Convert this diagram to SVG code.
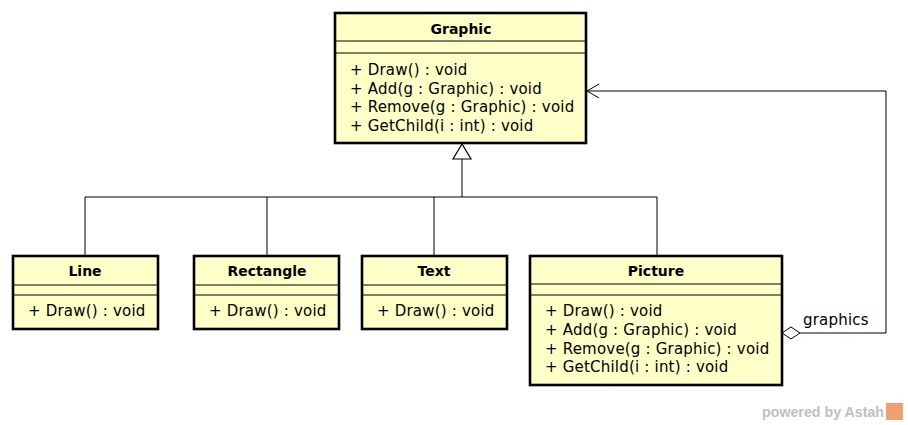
<svg xmlns="http://www.w3.org/2000/svg" width="908" height="425" viewBox="0 0 908 425">
<style>
.box{fill:#ffffc8;stroke:#000;stroke-width:2.6}
.sep{stroke:#000;stroke-width:1}
.t{font-family:"DejaVu Sans",sans-serif;font-size:14px;font-weight:bold;text-anchor:middle;fill:#000}
.m{font-family:"DejaVu Sans",sans-serif;font-size:15px;letter-spacing:0.2px;fill:#000}
.c{fill:none;stroke:#000;stroke-width:1}
</style>
<rect width="908" height="425" fill="#fff"/>
<g id="connectors">
<polyline class="c" points="85,256 85,197 657,197 657,256"/>
<line class="c" x1="267" y1="197" x2="267" y2="256"/>
<line class="c" x1="434" y1="197" x2="434" y2="256"/>
<line class="c" x1="462" y1="159" x2="462" y2="197" stroke-width="2"/>
<polygon points="462,144 453,159 471,159" fill="#fff" stroke="#000" stroke-width="1.2"/>
<polyline class="c" points="800,333 886,333 886,91 587,91"/>
<polyline class="c" points="599,84 587,91 599,98"/>
<polygon points="782,333 791,327 800,333 791,339" fill="#fff" stroke="#000" stroke-width="1"/>
<text class="m" x="803" y="325">graphics</text>
</g>
<g id="Graphic">
<rect class="box" x="335" y="13" width="251" height="130"/>
<line class="sep" x1="335" y1="41" x2="586" y2="41"/>
<line class="sep" x1="335" y1="53" x2="586" y2="53"/>
<text class="t" x="461" y="34">Graphic</text>
<text class="m" x="350" y="75">+ Draw() : void</text>
<text class="m" x="350" y="94">+ Add(g : Graphic) : void</text>
<text class="m" x="350" y="112">+ Remove(g : Graphic) : void</text>
<text class="m" x="350" y="131">+ GetChild(i : int) : void</text>
</g>
<g id="Line">
<rect class="box" x="13" y="256" width="145" height="73"/>
<line class="sep" x1="13" y1="285" x2="158" y2="285"/>
<line class="sep" x1="13" y1="295" x2="158" y2="295"/>
<text class="t" x="85" y="276">Line</text>
<text class="m" x="28" y="316">+ Draw() : void</text>
</g>
<g id="Rectangle">
<rect class="box" x="194" y="256" width="145" height="73"/>
<line class="sep" x1="194" y1="285" x2="339" y2="285"/>
<line class="sep" x1="194" y1="295" x2="339" y2="295"/>
<text class="t" x="267" y="276">Rectangle</text>
<text class="m" x="209" y="316">+ Draw() : void</text>
</g>
<g id="Text">
<rect class="box" x="362" y="256" width="145" height="73"/>
<line class="sep" x1="362" y1="285" x2="507" y2="285"/>
<line class="sep" x1="362" y1="295" x2="507" y2="295"/>
<text class="t" x="434" y="276">Text</text>
<text class="m" x="377" y="316">+ Draw() : void</text>
</g>
<g id="Picture">
<rect class="box" x="530" y="256" width="252" height="129"/>
<line class="sep" x1="530" y1="284" x2="782" y2="284"/>
<line class="sep" x1="530" y1="295" x2="782" y2="295"/>
<text class="t" x="656" y="276">Picture</text>
<text class="m" x="545" y="316">+ Draw() : void</text>
<text class="m" x="545" y="335">+ Add(g : Graphic) : void</text>
<text class="m" x="545" y="354">+ Remove(g : Graphic) : void</text>
<text class="m" x="545" y="372">+ GetChild(i : int) : void</text>
</g>
<g id="watermark">
<text x="762" y="417" font-family="Liberation Sans,Arial,sans-serif" font-size="14.5" font-weight="bold" fill="#c0c0c0" textLength="122" lengthAdjust="spacingAndGlyphs">powered by Astah</text>
<rect x="886" y="403" width="17" height="17" fill="#f0a070"/>
</g>
</svg>
